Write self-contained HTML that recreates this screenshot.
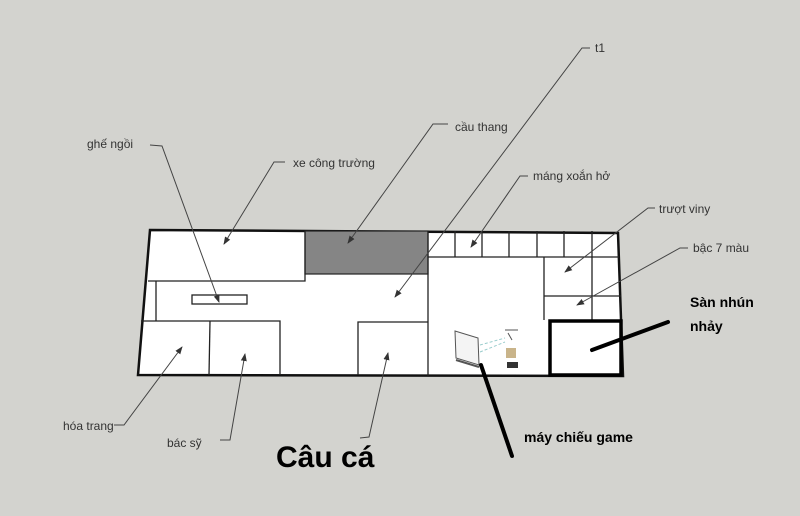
<!DOCTYPE html>
<html><head><meta charset="utf-8"><style>
html,body{margin:0;padding:0;background:#d3d3cf;}
svg{display:block}
text{font-family:"Liberation Sans","DejaVu Sans",sans-serif;}
</style></head><body>
<svg width="800" height="516" viewBox="0 0 800 516">
<rect width="800" height="516" fill="#d3d3cf"/>
<defs><marker id="a" markerWidth="8" markerHeight="8" refX="7" refY="4" orient="auto" markerUnits="userSpaceOnUse"><path d="M0,1 L8,4 L0,7 z" fill="#333"/></marker></defs>
<polygon points="150,230 618,233 623,376 138,375" fill="#fff" stroke="#111" stroke-width="2.5"/>
<rect x="305" y="231" width="123" height="43" fill="#858585" stroke="#222" stroke-width="1.2"/>
<g stroke="#222" stroke-width="1.3" fill="none">
<path d="M148,281 L305,281 L305,231"/>
<path d="M156,281 L156,321"/>
<path d="M141,321 L280,321 L280,375"/>
<path d="M210,321 L209,375"/>
<path d="M358,375 L358,322 L428,322"/>
<path d="M428,231 L428,376"/>
<path d="M428,257 L619,257"/>
<path d="M455,231 L455,257 M482,231 L482,257 M509,231 L509,257 M537,231 L537,257 M564,231 L564,257 M592,231 L592,257"/>
<path d="M544,257 L544,320 M544,296 L621,296 M592,257 L592,320"/>
<rect x="192" y="295" width="55" height="9"/>
</g>
<rect x="550" y="321" width="71" height="54" fill="#fff" stroke="#000" stroke-width="3.5"/>
<g stroke="#555" stroke-width="1" fill="none">
<path d="M455,331 L478,338 L479,365 L456,358 z" fill="#f4f4f4"/>
<path d="M456,360 L479,367" stroke-width="2"/>
<path d="M480,345 L505,338 M480,352 L505,342" stroke="#9cc" stroke-dasharray="3,2"/>
<path d="M505,330 L518,330 M508,333 L512,340"/>
</g>
<rect x="506" y="348" width="10" height="10" fill="#c9b48a"/>
<rect x="507" y="362" width="11" height="6" fill="#333"/>
<g stroke="#444" stroke-width="1" fill="none" marker-end="url(#a)">
<path d="M150,145 L162,146 L219,302"/>
<path d="M285,162 L274,162 L224,244"/>
<path d="M448,124 L433,124 L348,243"/>
<path d="M590,48 L582,48 L395,297"/>
<path d="M528,176 L520,176 L471,247"/>
<path d="M655,208 L648,208 L565,272"/>
<path d="M688,248 L680,248 L577,305"/>
<path d="M114,425 L124,425 L182,347"/>
<path d="M220,440 L230,440 L245,354"/>
<path d="M360,438 L369,437 L388,353"/>
</g>
<g stroke="#000" stroke-width="4" stroke-linecap="round">
<path d="M668,322 L592,350"/>
<path d="M512,456 L481,365"/>
</g>
<g fill="#333" font-size="12">
<text x="87" y="148">ghế ngồi</text>
<text x="293" y="167">xe công trường</text>
<text x="455" y="131">cầu thang</text>
<text x="595" y="52">t1</text>
<text x="533" y="180">máng xoắn hở</text>
<text x="659" y="213">trượt viny</text>
<text x="693" y="252">bậc 7 màu</text>
<text x="63" y="430">hóa trang</text>
<text x="167" y="447">bác sỹ</text>
</g>
<g fill="#000" font-weight="bold">
<text x="690" y="307" font-size="14">Sàn nhún</text>
<text x="690" y="331" font-size="14">nhảy</text>
<text x="524" y="442" font-size="14">máy chiếu game</text>
<text x="276" y="467" font-size="30">Câu cá</text>
</g>
</svg>
</body></html>
